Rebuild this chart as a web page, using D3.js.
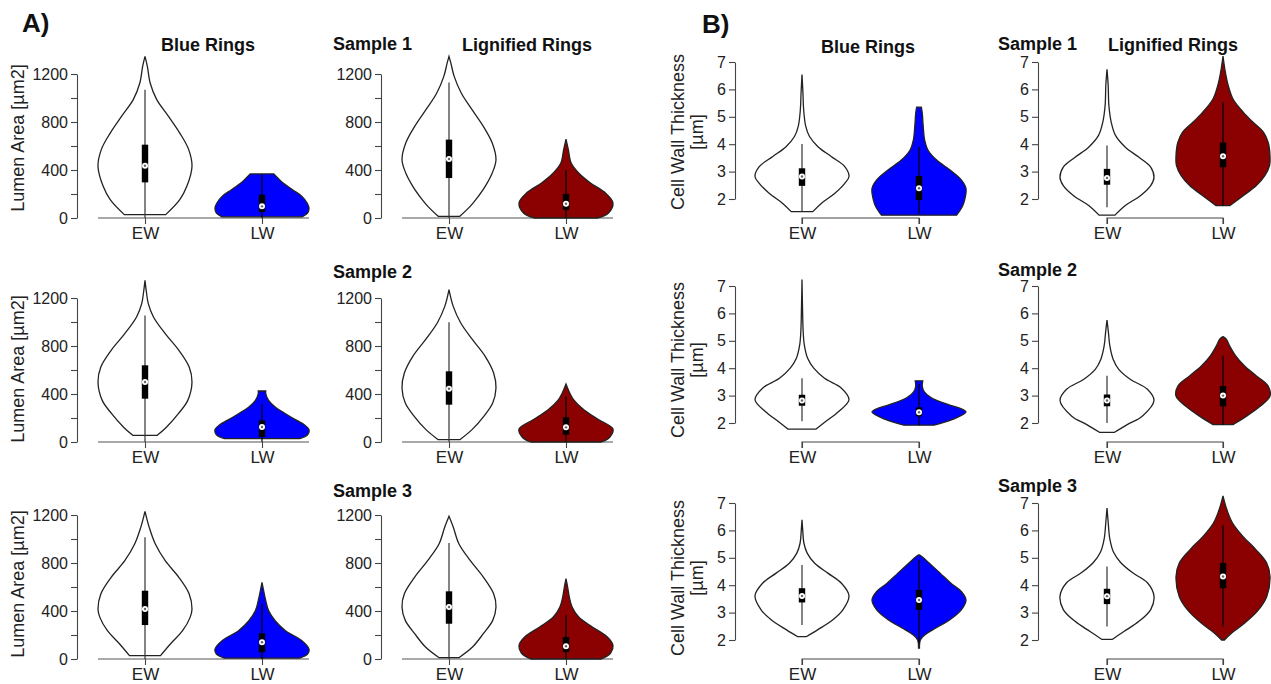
<!DOCTYPE html>
<html lang="en">
<head>
<meta charset="utf-8">
<script src="https://d3js.org/d3.v7.min.js"></script>
<style>
  body { margin: 0; background: #fff; }
  svg { display: block; font-family: "Liberation Sans", Arial, sans-serif; }
  .axis path, .axis line { stroke: #444; stroke-width: 1.1; }
  .axis text { fill: #222; font-family: "Liberation Sans", Arial, sans-serif; }
  .title { font-weight: bold; font-size: 18px; fill: #111; }
  .ylab { font-size: 18px; fill: #222; }
</style>
<title>Violin plots</title>
</head>
<body>
<svg id="chart" width="1271" height="684"></svg>
<script>
// categories and ticks
var categories = ["EW", "LW"];
var lumenTicks = [0, 200, 400, 600, 800, 1000, 1200];
var lumenLabels = [0, 400, 800, 1200];
var wallTicks = [2, 3, 4, 5, 6, 7];

// violin profiles: [value, relative half-width]
// Lumen area - Blue rings
var lumenBlueEW1 = [[28,0.44],[153,0.74],[264,0.89],[430,1.0],[570,0.93],[708,0.74],[847,0.50],[986,0.25],[1125,0.11],[1264,0.05],[1347,0]];
var lumenBlueEW2 = [[56,0.26],[125,0.46],[236,0.71],[347,0.91],[500,1.0],[625,0.94],[764,0.72],[903,0.43],[1042,0.18],[1153,0.07],[1250,0.03],[1347,0]];
var lumenBlueEW3 = [[28,0.33],[125,0.54],[236,0.80],[347,0.96],[417,1.0],[542,0.94],[681,0.72],[819,0.43],[958,0.22],[1097,0.09],[1230,0]];
var lumenBlueLW1 = [[10,0.85],[40,0.97],[83,1.0],[125,0.96],[180,0.85],[236,0.65],[292,0.45],[340,0.32],[367,0.25]];
var lumenBlueLW2 = [[28,0.80],[60,0.97],[103,1.0],[150,0.88],[180,0.74],[236,0.50],[292,0.28],[347,0.14],[403,0.08],[425,0.08]];
var lumenBlueLW3 = [[8,0.80],[40,0.97],[83,1.0],[153,0.85],[236,0.50],[319,0.28],[403,0.14],[486,0.08],[569,0.035],[639,0]];
// Lumen area - Lignified rings
var lumenRedEW1 = [[14,0.23],[97,0.45],[153,0.57],[264,0.77],[375,0.92],[486,1.0],[625,0.92],[764,0.73],[903,0.49],[1042,0.26],[1180,0.11],[1290,0.04],[1347,0]];
var lumenRedEW2 = [[19,0.23],[103,0.49],[214,0.74],[325,0.93],[450,1.0],[575,0.95],[714,0.77],[853,0.50],[992,0.25],[1130,0.09],[1270,0]];
var lumenRedEW3 = [[11,0.21],[100,0.50],[211,0.73],[322,0.93],[433,1.0],[544,0.95],[683,0.73],[822,0.45],[961,0.21],[1100,0.09],[1189,0]];
var lumenRedLW1 = [[0,0.68],[40,0.90],[125,1.0],[208,0.84],[292,0.52],[375,0.27],[458,0.11],[569,0.05],[658,0]];
var lumenRedLW2 = [[0,0.75],[40,0.93],[108,1.0],[186,0.70],[269,0.38],[353,0.16],[408,0.08],[483,0]];
var lumenRedLW3 = [[0,0.75],[50,0.95],[114,1.0],[183,0.88],[267,0.56],[350,0.27],[433,0.13],[517,0.07],[600,0.035],[669,0]];
// Cell wall thickness - Blue rings
var wallBlueEW1 = [[1.54,0.23],[1.84,0.41],[2.21,0.70],[2.57,0.91],[2.82,1.0],[3.18,0.91],[3.55,0.62],[3.91,0.34],[4.28,0.16],[4.65,0.08],[5.26,0.035],[5.87,0.02],[6.54,0]];
var wallBlueEW2 = [[1.78,0.30],[2.06,0.51],[2.42,0.78],[2.85,1.0],[3.27,0.84],[3.63,0.48],[4.00,0.25],[4.36,0.12],[4.84,0.05],[5.33,0.025],[6.30,0.01],[7.24,0]];
var wallBlueEW3 = [[2.12,0.09],[2.37,0.33],[2.73,0.65],[3.10,0.87],[3.61,1.0],[4.07,0.84],[4.44,0.55],[4.80,0.27],[5.17,0.11],[5.54,0.04],[6.02,0.015],[6.39,0]];
var wallBlueLW1 = [[1.41,0.80],[1.72,0.92],[1.96,0.97],[2.39,1.0],[2.70,0.90],[3.06,0.66],[3.43,0.37],[3.79,0.19],[4.16,0.12],[4.65,0.09],[5.13,0.07],[5.35,0.05]];
var wallBlueLW2 = [[1.92,0.32],[2.12,0.70],[2.40,1.0],[2.55,0.85],[2.67,0.63],[2.91,0.27],[3.15,0.11],[3.35,0.07],[3.54,0.08]];
var wallBlueLW3 = [[1.70,0.01],[2.00,0.03],[2.18,0.12],[2.43,0.35],[2.73,0.65],[3.10,0.90],[3.46,1.0],[3.77,0.90],[4.07,0.68],[4.44,0.45],[4.80,0.22],[5.05,0.06],[5.11,0]];
// Cell wall thickness - Lignified rings
var wallRedEW1 = [[1.41,0.17],[1.76,0.39],[2.12,0.71],[2.49,0.93],[2.79,1.0],[3.16,0.93],[3.52,0.68],[3.89,0.39],[4.32,0.18],[4.80,0.09],[5.41,0.04],[6.15,0.025],[6.73,0]];
var wallRedEW2 = [[1.66,0.16],[1.94,0.43],[2.25,0.75],[2.82,1.0],[3.23,0.86],[3.59,0.50],[3.96,0.25],[4.33,0.13],[4.82,0.06],[5.31,0.03],[5.76,0]];
var wallRedEW3 = [[2.02,0.11],[2.31,0.36],[2.68,0.68],[3.11,0.93],[3.60,1.0],[4.09,0.86],[4.46,0.54],[4.83,0.29],[5.20,0.14],[5.69,0.06],[6.30,0.025],[6.82,0]];
var wallRedLW1 = [[1.76,0.15],[2.12,0.43],[2.49,0.71],[2.85,0.89],[3.22,0.99],[3.58,1.0],[4.07,0.96],[4.44,0.86],[4.80,0.64],[5.17,0.43],[5.66,0.21],[6.15,0.11],[6.63,0.05],[7.22,0]];
var wallRedLW2 = [[1.94,0.21],[2.25,0.50],[2.61,0.79],[2.98,1.0],[3.35,0.96],[3.72,0.71],[4.08,0.46],[4.45,0.27],[4.82,0.14],[5.06,0.07],[5.15,0]];
var wallRedLW3 = [[2.00,0.03],[2.25,0.18],[2.60,0.45],[3.09,0.75],[3.58,0.93],[4.32,1.0],[4.81,0.93],[5.30,0.70],[5.79,0.42],[6.28,0.20],[6.77,0.08],[7.26,0]];

// box stats: [whisker low, q1, median, q3, whisker high]
var lumenBlueBoxEW = [[0,297,436,611,1069],[0,361,500,639,1055],[0,283,417,569,1014]];
var lumenBlueBoxLW = [[0,50,97,194,361],[0,42,125,180,319],[0,56,139,214,458]];
var lumenRedBoxEW = [[0,333,492,653,1130],[0,311,444,589,997],[0,294,433,564,967]];
var lumenRedBoxLW = [[0,69,119,200,403],[0,61,122,206,380],[0,58,106,183,364]];
var wallBlueBoxEW = [[1.54,2.48,2.82,3.12,4.01],[2.06,2.63,2.82,3.03,3.63],[2.55,3.37,3.61,3.89,4.74]];
var wallBlueBoxLW = [[1.45,1.96,2.39,2.84,3.91],[1.92,2.24,2.39,2.57,3.42],[1.88,3.10,3.46,3.83,4.93]];
var wallRedBoxEW = [[1.70,2.52,2.77,3.10,3.95],[2.00,2.61,2.82,3.04,3.72],[2.49,3.31,3.60,3.87,4.68]];
var wallRedBoxLW = [[1.76,3.16,3.56,4.06,5.54],[1.94,2.61,3.00,3.35,4.45],[2.49,3.89,4.32,4.81,6.18]];

var blueFill = "#0000ff", redFill = "#8b0000";

var svg = d3.select("#chart");

// layout of the 4 columns and 3 rows
var cols = [
    {axisX: 77, ew: 145, lw: 262},
    {axisX: 381, ew: 449, lw: 566},
    {axisX: 735, ew: 802, lw: 919},
    {axisX: 1038, ew: 1107, lw: 1223}
];
var rowBase = [218, 442, 659];
var halfWidth = d3.scaleLinear().domain([0, 1]).range([0, 47]);

function drawPanel(c, r, kind, profiles, boxes, fill) {
    var col = cols[c], y0 = rowBase[r];
    var g = svg.append("g");
    var y = kind == "lumen"
        ? d3.scaleLinear().domain([0, 1200]).range([y0, y0 - 144])
        : d3.scaleLinear().domain([2, 7]).range([y0 - 19, y0 - 156]);
    var x = d3.scalePoint().domain(categories).range([col.ew, col.lw]);

    // y axis
    var yAxis = d3.axisLeft(y).tickSize(6).tickPadding(3).tickSizeOuter(0);
    if (kind == "lumen") {
        yAxis.tickValues(lumenTicks).tickFormat(function(d) { return lumenLabels.indexOf(d) >= 0 ? d : ""; });
    } else {
        yAxis.tickValues(wallTicks).tickFormat(d3.format("d"));
    }
    g.append("g").attr("class", "axis")
        .attr("transform", "translate(" + col.axisX + ",0)")
        .call(yAxis)
        .call(function(s) { s.selectAll("text").style("font-size", "16px"); });

    // x axis
    var xAxis = d3.axisBottom(x).tickSize(6).tickPadding(3).tickSizeOuter(0);
    var xg = g.append("g").attr("class", "axis")
        .attr("transform", "translate(0," + y0 + ")")
        .call(xAxis);
    xg.selectAll("text").style("font-size", "17px");
    if (kind == "lumen") {
        xg.select(".domain").remove();
        g.append("line")
            .attr("x1", col.ew - halfWidth(1)).attr("x2", col.lw + halfWidth(1))
            .attr("y1", y0).attr("y2", y0)
            .attr("stroke", "#555").attr("stroke-width", 1.2);
    } else {
        xg.select(".domain").attr("d", "M" + col.ew + ",6V0H" + col.lw + "V6");
    }

    categories.forEach(function(cat, i) {
        var cx = x(cat);
        var area = d3.area()
            .y(function(d) { return y(d[0]); })
            .x0(function(d) { return cx - halfWidth(d[1]); })
            .x1(function(d) { return cx + halfWidth(d[1]); })
            .curve(d3.curveCatmullRom.alpha(0.5));
        g.append("path")
            .datum(profiles[i])
            .attr("d", area)
            .attr("fill", i == 0 ? "#fff" : fill)
            .attr("stroke", "#222")
            .attr("stroke-width", 1.3);

        var b = boxes[i];
        g.append("line")
            .attr("x1", cx).attr("x2", cx)
            .attr("y1", y(b[0])).attr("y2", y(b[4]))
            .attr("stroke", i == 0 ? "#333" : "#000").attr("stroke-width", 1.2);
        g.append("rect")
            .attr("x", cx - 3.2).attr("width", 6.4)
            .attr("y", y(b[3])).attr("height", y(b[1]) - y(b[3]))
            .attr("fill", "#000");
        g.append("circle").attr("cx", cx).attr("cy", y(b[2])).attr("r", 3)
            .attr("fill", "#fff");
        g.append("circle").attr("cx", cx).attr("cy", y(b[2])).attr("r", 1.2)
            .attr("fill", "#666");
    });
}

// Panel A: lumen area
drawPanel(0, 0, "lumen", [lumenBlueEW1, lumenBlueLW1], [lumenBlueBoxEW[0], lumenBlueBoxLW[0]], blueFill);
drawPanel(0, 1, "lumen", [lumenBlueEW2, lumenBlueLW2], [lumenBlueBoxEW[1], lumenBlueBoxLW[1]], blueFill);
drawPanel(0, 2, "lumen", [lumenBlueEW3, lumenBlueLW3], [lumenBlueBoxEW[2], lumenBlueBoxLW[2]], blueFill);
drawPanel(1, 0, "lumen", [lumenRedEW1, lumenRedLW1], [lumenRedBoxEW[0], lumenRedBoxLW[0]], redFill);
drawPanel(1, 1, "lumen", [lumenRedEW2, lumenRedLW2], [lumenRedBoxEW[1], lumenRedBoxLW[1]], redFill);
drawPanel(1, 2, "lumen", [lumenRedEW3, lumenRedLW3], [lumenRedBoxEW[2], lumenRedBoxLW[2]], redFill);
// Panel B: cell wall thickness
drawPanel(2, 0, "wall", [wallBlueEW1, wallBlueLW1], [wallBlueBoxEW[0], wallBlueBoxLW[0]], blueFill);
drawPanel(2, 1, "wall", [wallBlueEW2, wallBlueLW2], [wallBlueBoxEW[1], wallBlueBoxLW[1]], blueFill);
drawPanel(2, 2, "wall", [wallBlueEW3, wallBlueLW3], [wallBlueBoxEW[2], wallBlueBoxLW[2]], blueFill);
drawPanel(3, 0, "wall", [wallRedEW1, wallRedLW1], [wallRedBoxEW[0], wallRedBoxLW[0]], redFill);
drawPanel(3, 1, "wall", [wallRedEW2, wallRedLW2], [wallRedBoxEW[1], wallRedBoxLW[1]], redFill);
drawPanel(3, 2, "wall", [wallRedEW3, wallRedLW3], [wallRedBoxEW[2], wallRedBoxLW[2]], redFill);

// titles
svg.append("text").attr("x", 22).attr("y", 32).attr("font-size", 26).attr("font-weight", "bold").attr("fill", "#111").text("A)");
svg.append("text").attr("x", 702).attr("y", 33).attr("font-size", 26).attr("font-weight", "bold").attr("fill", "#111").text("B)");

function title(x, y, txt, anchor) {
    svg.append("text").attr("class", "title").attr("x", x).attr("y", y)
        .attr("text-anchor", anchor || "start").text(txt);
}
title(208, 51, "Blue Rings", "middle");
title(527, 51, "Lignified Rings", "middle");
title(868, 53, "Blue Rings", "middle");
title(1173, 51, "Lignified Rings", "middle");
["Sample 1", "Sample 2", "Sample 3"].forEach(function(s, i) {
    title(333, [50, 278, 497][i], s);
    title(998, [50, 276, 492][i], s);
});

// y axis titles
[138, 369, 584].forEach(function(cy) {
    svg.append("text").attr("class", "ylab")
        .attr("transform", "translate(24," + cy + ") rotate(-90)")
        .attr("text-anchor", "middle").text("Lumen Area [µm2]");
});
[132, 360, 578].forEach(function(cy) {
    svg.append("text").attr("class", "ylab")
        .attr("transform", "translate(684," + cy + ") rotate(-90)")
        .attr("text-anchor", "middle").text("Cell Wall Thickness");
    svg.append("text").attr("class", "ylab")
        .attr("transform", "translate(703," + cy + ") rotate(-90)")
        .attr("text-anchor", "middle").text("[µm]");
});
</script>
</body>
</html>
